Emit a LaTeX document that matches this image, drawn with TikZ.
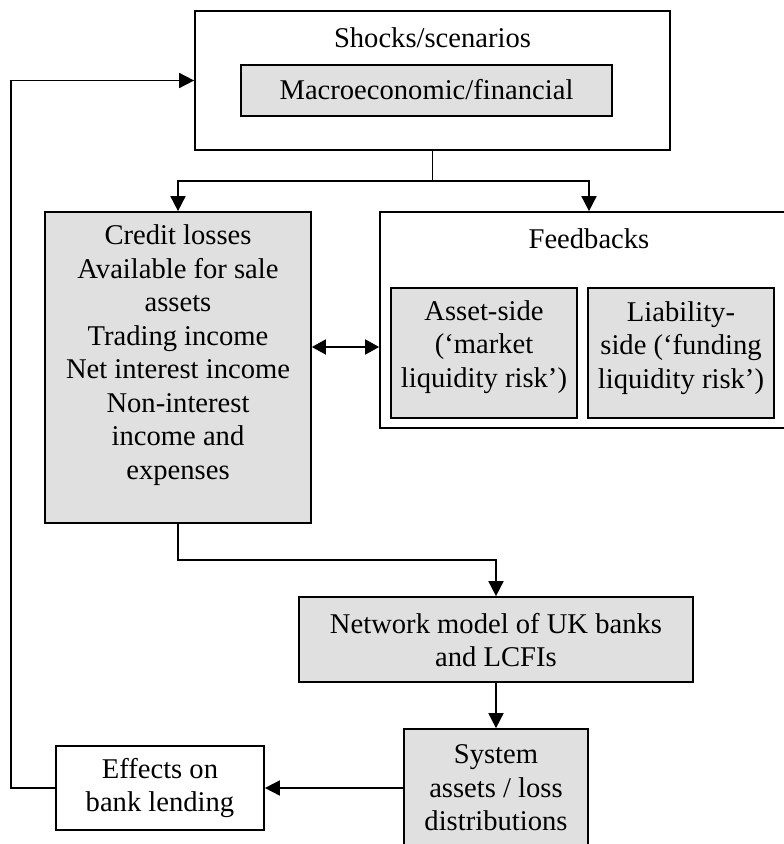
\documentclass[tikz,border=0pt]{standalone}
\usepackage{fontspec}
\setmainfont{Liberation Serif}
\usetikzlibrary{arrows.meta,calc}
\definecolor{boxfill}{gray}{0.88}
\begin{document}
\begin{tikzpicture}[x=1pt,y=-1pt,
  every node/.style={font=\fontsize{28.6}{33.5}\selectfont},
  frame/.style={draw,line width=1.7pt,inner sep=0pt},
  shaded/.style={frame,fill=boxfill},
  txt/.style={align=center,inner sep=0pt},
  conn/.style={line width=1.7pt},
  arr/.style={conn,-{Triangle[length=15pt,width=15pt]}},
  arrboth/.style={conn,{Triangle[length=14pt,width=15pt]}-{Triangle[length=14pt,width=15pt]}}]
\useasboundingbox (0,0) rectangle (784,844);
% boxes
\node[frame, minimum width=475pt, minimum height=139pt] (shocks) at (432.5,80.5) {};
\node[shaded, minimum width=371pt, minimum height=51pt] (macro) at (426.5,90.5) {};
\node[shaded, minimum width=266pt, minimum height=311pt] (cl) at (178,367.5) {};
\node[frame, minimum width=418pt, minimum height=216pt] (fb) at (589,320) {};
\node[shaded, minimum width=186pt, minimum height=130pt] (asset) at (484,353) {};
\node[shaded, minimum width=186pt, minimum height=130pt] (liab) at (681,353) {};
\node[shaded, minimum width=394pt, minimum height=85pt] (net) at (496,639.5) {};
\node[shaded, minimum width=184pt, minimum height=126pt] (sys) at (496,792) {};
\node[frame, minimum width=208pt, minimum height=84pt] (eff) at (160,788) {};
% texts
\node[txt] (tshocks) at (432.5,38) {Shocks/scenarios};
\node[txt] (tmacro) at (426.5,90) {Macroeconomic/financial};
\node[txt] (tcl) at (178,355) {Credit losses\\Available for sale\\assets\\Trading income\\Net interest income\\Non-interest\\income and\\expenses};
\node[txt] (tfb) at (589,239) {Feedbacks};
\node[txt] (tasset) at (484,347) {Asset-side\\(‘market\\liquidity risk’)};
\node[txt] (tliab) at (681,348) {Liability-\\side (‘funding\\liquidity risk’)};
\node[txt] (tnet) at (496,640) {Network model of UK banks\\and LCFIs};
\node[txt] (tsys) at (496,788) {System\\assets / loss\\distributions};
\node[txt] (teff) at (160,788) {Effects on\\bank lending};
% connectors
\coordinate (split) at (432.5,181);
\coordinate (dbl) at (345,347);
\draw[conn] (shocks.south) -- (split);
\draw[arr] (split) -| (cl.north);
\draw[arr] (split) -| (fb.north);
\draw[arrboth] (dbl -| cl.east) -- (dbl -| fb.west);
\coordinate (bend) at (178,560);
\draw[arr] (cl.south) -- (bend) -| (net.north);
\draw[arr] (net.south) -- (sys.north);
\draw[arr] (eff.east -| sys.west) -- (eff.east);
\coordinate (back) at (11,788);
\draw[arr] (eff.west) -- (back) |- (shocks.west);
\end{tikzpicture}
\end{document}
